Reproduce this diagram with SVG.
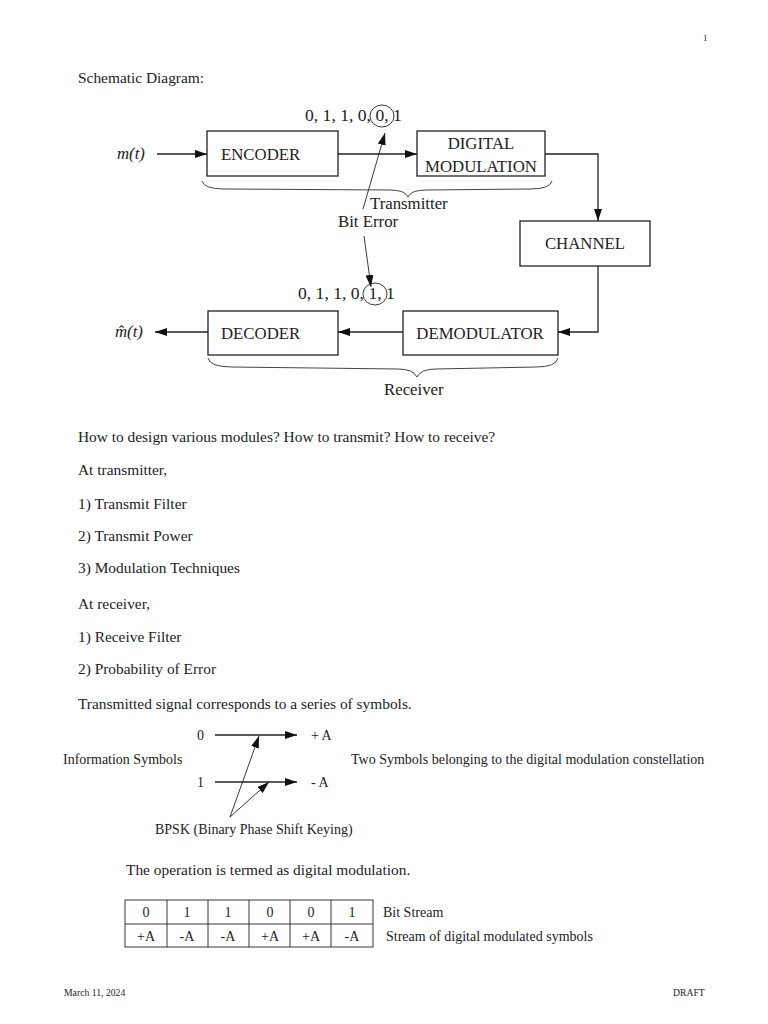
<svg xmlns="http://www.w3.org/2000/svg" width="768" height="1024" viewBox="0 0 768 1024">
<style>
text{font-family:"Liberation Serif","Times New Roman",serif;fill:#222}
.b{font-size:15.4px}
.d{font-size:16.8px}
.bits{font-size:17.6px}
.s{font-size:14px}
.f{font-size:9.7px}
.box{fill:none;stroke:#222;stroke-width:1.3}
.ln{fill:none;stroke:#222;stroke-width:1.3}
.th{fill:none;stroke:#222;stroke-width:0.9}
.br{fill:none;stroke:#444;stroke-width:1}
.c{text-anchor:middle}
</style>
<defs>
<marker id="ah" viewBox="0 0 12 8" refX="12" refY="4" markerWidth="12" markerHeight="8" markerUnits="userSpaceOnUse" orient="auto">
<path d="M0,0 L12,4 L0,8 Z" fill="#111"/>
</marker>
</defs>
<rect width="768" height="1024" fill="#fff"/>
<text x="703" y="41" style="font-size:9px">1</text>
<text class="b" x="78" y="83">Schematic Diagram:</text>

<g id="connectors">
<line class="ln" x1="157" y1="154" x2="207" y2="154" marker-end="url(#ah)"/>
<line class="ln" x1="338" y1="154" x2="417" y2="154" marker-end="url(#ah)"/>
<path class="ln" d="M545,154 H598 V221" marker-end="url(#ah)"/>
<path class="ln" d="M598,266 V332 H558" marker-end="url(#ah)"/>
<line class="ln" x1="403" y1="332" x2="338" y2="332" marker-end="url(#ah)"/>
<line class="ln" x1="208" y1="332" x2="155" y2="332" marker-end="url(#ah)"/>
<line class="th" x1="363" y1="209" x2="385" y2="133" marker-end="url(#ah)"/>
<line class="th" x1="364" y1="236" x2="371" y2="287" marker-end="url(#ah)"/>
</g>

<g id="input"><text class="d" x="117" y="159" font-style="italic">m(t)</text></g>
<g id="output"><text class="d" x="115" y="337" font-style="italic">m&#770;(t)</text></g>

<g id="encoder"><rect class="box" x="207" y="131" width="131" height="45"/><text class="d" x="221" y="160">ENCODER</text></g>
<g id="digital-modulation"><rect class="box" x="417" y="131" width="128" height="45"/><text class="d c" x="481" y="149">DIGITAL</text><text class="d c" x="481" y="172">MODULATION</text></g>
<g id="channel"><rect class="box" x="520" y="221" width="130" height="45"/><text class="d c" x="585" y="249">CHANNEL</text></g>
<g id="demodulator"><rect class="box" x="403" y="311" width="155" height="44"/><text class="d c" x="480" y="339">DEMODULATOR</text></g>
<g id="decoder"><rect class="box" x="208" y="311" width="130" height="44"/><text class="d" x="221" y="339">DECODER</text></g>

<g id="tx-bits"><text class="bits" x="305" y="121">0, 1, 1, 0, 0, 1</text><ellipse class="th" cx="382" cy="116" rx="12" ry="11"/></g>
<g id="rx-bits"><text class="bits" x="298" y="299">0, 1, 1, 0, 1, 1</text><ellipse class="th" cx="375" cy="294" rx="12" ry="11"/></g>

<g id="transmitter-brace"><path class="br" d="M202,181 Q204,189 225,189 L390,190 Q405,190 408,197 Q411,190 426,190 L530,189 Q550,189 552,181"/><text class="d" x="370" y="209">Transmitter</text></g>
<text class="d" x="338" y="227">Bit Error</text>
<g id="receiver-brace"><path class="br" d="M208,358 Q210,367 232,367 L398,369 Q413,369 417,377 Q421,369 436,369 L536,367 Q556,367 558,358"/><text class="d" x="384" y="395">Receiver</text></g>

<text class="b" x="78" y="442">How to design various modules? How to transmit? How to receive?</text>
<text class="b" x="78" y="475">At transmitter,</text>
<text class="b" x="78" y="509">1)  Transmit Filter</text>
<text class="b" x="78" y="541">2)  Transmit Power</text>
<text class="b" x="78" y="573">3)  Modulation Techniques</text>
<text class="b" x="78" y="609">At receiver,</text>
<text class="b" x="78" y="642">1)  Receive Filter</text>
<text class="b" x="78" y="674">2)  Probability of Error</text>
<text class="b" x="78" y="709">Transmitted signal corresponds to a series of symbols.</text>

<g id="constellation">
<text class="s" x="197" y="740">0</text>
<text class="s" x="197" y="787">1</text>
<line class="ln" x1="215" y1="735" x2="297" y2="735" marker-end="url(#ah)"/>
<line class="ln" x1="215" y1="782" x2="297" y2="782" marker-end="url(#ah)"/>
<text class="s" x="311" y="740">+ A</text>
<text class="s" x="311" y="787">- A</text>
<text class="s" x="63" y="764">Information Symbols</text>
<text class="s" x="351" y="764">Two Symbols belonging to the digital modulation constellation</text>
<line class="th" x1="230" y1="817" x2="259" y2="736" marker-end="url(#ah)"/>
<line class="th" x1="230" y1="817" x2="269" y2="782" marker-end="url(#ah)"/>
<text class="s" x="155" y="834">BPSK (Binary Phase Shift Keying)</text>
</g>

<text class="b" x="126" y="875">The operation is termed as digital modulation.</text>

<g id="table">
<rect class="th" x="125" y="900" width="248" height="47"/>
<line class="th" x1="125" y1="924" x2="373" y2="924"/>
<line class="th" x1="167" y1="900" x2="167" y2="947"/>
<line class="th" x1="208" y1="900" x2="208" y2="947"/>
<line class="th" x1="249" y1="900" x2="249" y2="947"/>
<line class="th" x1="290" y1="900" x2="290" y2="947"/>
<line class="th" x1="331" y1="900" x2="331" y2="947"/>
<text class="s c" x="146" y="917">0</text><text class="s c" x="187" y="917">1</text><text class="s c" x="228" y="917">1</text><text class="s c" x="270" y="917">0</text><text class="s c" x="311" y="917">0</text><text class="s c" x="352" y="917">1</text>
<text class="s c" x="146" y="941">+A</text><text class="s c" x="187" y="941">-A</text><text class="s c" x="228" y="941">-A</text><text class="s c" x="270" y="941">+A</text><text class="s c" x="311" y="941">+A</text><text class="s c" x="352" y="941">-A</text>
<text class="s" x="383" y="917">Bit Stream</text>
<text class="s" x="386" y="941">Stream of digital modulated symbols</text>
</g>

<text class="f" x="64" y="996">March 11, 2024</text>
<text class="f" x="673" y="996">DRAFT</text>
</svg>
